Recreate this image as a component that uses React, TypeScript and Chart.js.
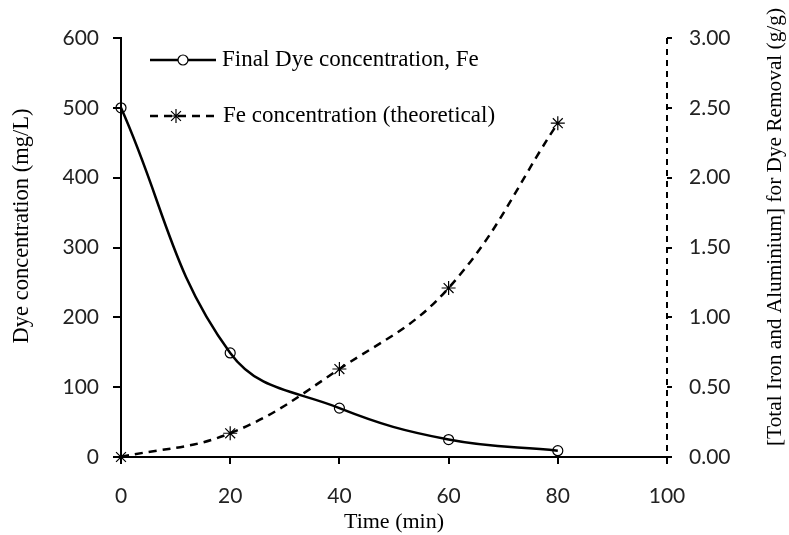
import React, { useEffect, useRef } from "react";
import { Chart, registerables } from "chart.js";

Chart.register(...registerables);

const timeMin = [0, 20, 40, 60, 80];
const dyeConc = [500, 149, 70, 25, 9];
const feTheoretical = [0, 0.17, 0.63, 1.21, 2.39];

const seriesNames = ["Final Dye concentration, Fe", "Fe concentration (theoretical)"];
const xTitle = "Time (min)";
const yTitle = "Dye concentration (mg/L)";
const y1Title = "[Total Iron and Aluminium] for Dye Removal (g/g)";

const SERIF = "'Liberation Serif', 'Times New Roman', serif";
const SANS = "Lato, 'Open Sans', sans-serif";

const overlayPlugin = {
  id: "overlay",
  afterDraw(chart: any) {
    const ctx = chart.ctx as CanvasRenderingContext2D;
    const a = chart.chartArea;
    ctx.save();
    // dashed right axis line
    ctx.strokeStyle = "#000";
    ctx.lineWidth = 2;
    ctx.setLineDash([6, 5]);
    ctx.beginPath();
    ctx.moveTo(a.right, a.top);
    ctx.lineTo(a.right, a.bottom);
    ctx.stroke();
    ctx.setLineDash([]);

    ctx.fillStyle = "#000";
    ctx.textBaseline = "middle";
    // x title
    ctx.font = `22px ${SERIF}`;
    ctx.textAlign = "center";
    ctx.fillText(xTitle, (a.left + a.right) / 2, 522);
    // left title
    ctx.save();
    ctx.translate(22, 226);
    ctx.rotate(-Math.PI / 2);
    ctx.font = `22.5px ${SERIF}`;
    ctx.fillText(yTitle, 0, 0);
    ctx.restore();
    // right title
    ctx.save();
    ctx.translate(775, 227);
    ctx.rotate(-Math.PI / 2);
    ctx.font = `21.3px ${SERIF}`;
    ctx.fillText(y1Title, 0, 0);
    ctx.restore();

    // legend
    ctx.strokeStyle = "#000";
    ctx.lineWidth = 2.5;
    ctx.beginPath();
    ctx.moveTo(150, 60);
    ctx.lineTo(216, 60);
    ctx.stroke();
    ctx.lineWidth = 1.2;
    ctx.beginPath();
    ctx.arc(183, 60, 5, 0, Math.PI * 2);
    ctx.fillStyle = "#fff";
    ctx.fill();
    ctx.stroke();

    ctx.lineWidth = 2.5;
    ctx.setLineDash([8, 6]);
    ctx.beginPath();
    ctx.moveTo(150, 116);
    ctx.lineTo(214, 116);
    ctx.stroke();
    ctx.setLineDash([]);
    ctx.lineWidth = 1.2;
    const sx = 176, sy = 116, r = 7;
    ctx.beginPath();
    ctx.moveTo(sx - r, sy); ctx.lineTo(sx + r, sy);
    ctx.moveTo(sx, sy - r); ctx.lineTo(sx, sy + r);
    const d = r * 0.707;
    ctx.moveTo(sx - d, sy - d); ctx.lineTo(sx + d, sy + d);
    ctx.moveTo(sx - d, sy + d); ctx.lineTo(sx + d, sy - d);
    ctx.stroke();

    ctx.fillStyle = "#000";
    ctx.textAlign = "left";
    ctx.font = `23px ${SERIF}`;
    ctx.fillText(seriesNames[0], 222, 60);
    ctx.fillText(seriesNames[1], 223, 116);
    ctx.restore();
  },
};

export default function App() {
  const ref = useRef<HTMLCanvasElement | null>(null);
  useEffect(() => {
    if (!ref.current) return;
    const chart = new Chart(ref.current, {
      type: "line",
      data: {
        datasets: [
          {
            label: seriesNames[0],
            data: timeMin.map((t, i) => ({ x: t, y: dyeConc[i] })),
            yAxisID: "y",
            borderColor: "#000",
            borderWidth: 2.5,
            tension: 0.4,
            pointStyle: "circle",
            pointRadius: 5,
            pointBorderWidth: 1.2,
            pointBorderColor: "#000",
            pointBackgroundColor: "rgba(255,255,255,0)",
            clip: false,
          },
          {
            label: seriesNames[1],
            data: timeMin.map((t, i) => ({ x: t, y: feTheoretical[i] })),
            yAxisID: "y1",
            borderColor: "#000",
            borderWidth: 2.5,
            borderDash: [8, 6],
            tension: 0.4,
            pointStyle: "star",
            pointRadius: 7,
            pointBorderWidth: 1.2,
            pointBorderColor: "#000",
            pointBackgroundColor: "#000",
            clip: false,
          },
        ],
      },
      options: {
        animation: false,
        responsive: false,
        maintainAspectRatio: false,
        layout: { padding: { top: 38, left: 0, right: 0, bottom: 0 } },
        plugins: { legend: { display: false }, tooltip: { enabled: false } },
        scales: {
          x: {
            type: "linear",
            position: "bottom",
            min: 0,
            max: 100,
            ticks: { stepSize: 20, color: "#222", font: { family: SANS, size: 21 }, padding: 20 },
            grid: { drawOnChartArea: false, drawTicks: true, tickLength: 7, color: "#000", lineWidth: 2 },
            border: { display: true, color: "#000", width: 2 },
            afterFit: (s: any) => { s.height = 78; },
          },
          y: {
            type: "linear",
            position: "left",
            min: 0,
            max: 600,
            ticks: { stepSize: 100, color: "#222", font: { family: SANS, size: 21 }, padding: 14 },
            grid: { drawOnChartArea: false, drawTicks: true, tickLength: 8, color: "#000", lineWidth: 2 },
            border: { display: true, color: "#000", width: 2 },
            afterFit: (s: any) => { s.width = 121; },
          },
          y1: {
            type: "linear",
            position: "right",
            min: 0,
            max: 3,
            ticks: {
              stepSize: 0.5,
              color: "#222",
              font: { family: SANS, size: 21 },
              padding: 17,
              callback: (v: any) => Number(v).toFixed(2),
            },
            grid: { drawOnChartArea: false, drawTicks: true, tickLength: 5, color: "#000", lineWidth: 2 },
            border: { display: false },
            afterFit: (s: any) => { s.width = 122; },
          },
        },
      },
      plugins: [overlayPlugin],
    });
    return () => chart.destroy();
  }, []);
  return (
    <div style={{ position: "fixed", left: 0, top: 0, width: 789, height: 535, background: "#fff" }}>
      <canvas ref={ref} width={789} height={535} style={{ display: "block" }} />
    </div>
  );
}
